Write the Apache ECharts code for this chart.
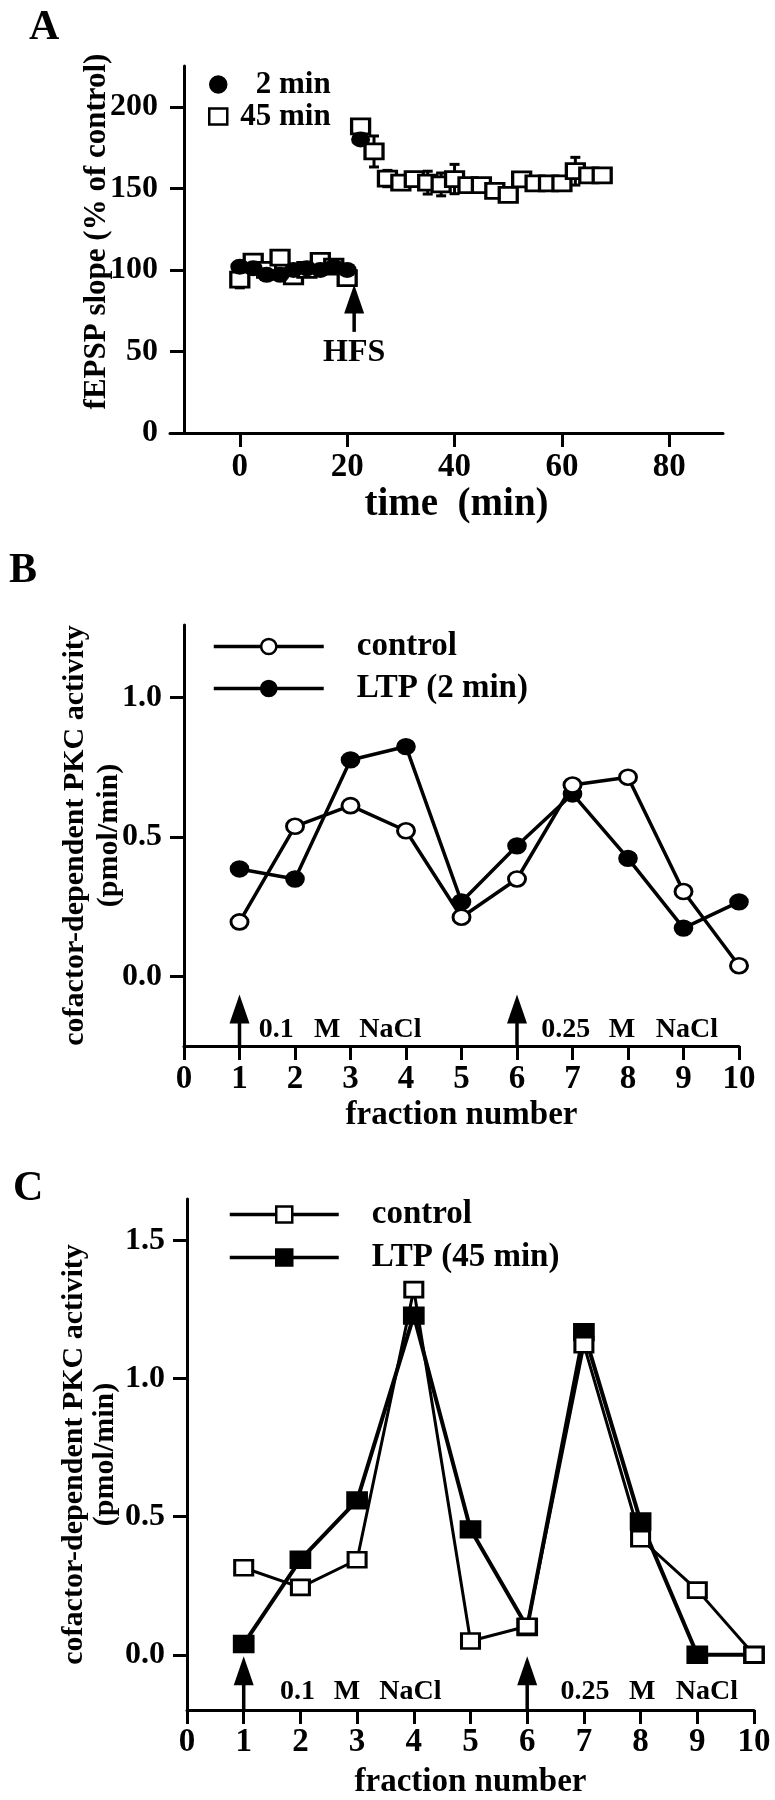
<!DOCTYPE html>
<html><head><meta charset="utf-8">
<script src="https://cdn.jsdelivr.net/npm/echarts@6/dist/echarts.min.js"></script>
<style>html,body{margin:0;padding:0;background:#fff}#c{width:775px;height:1800px}</style>
</head><body><div id="c"></div>
<script>
const FONT = '"Liberation Serif","Times New Roman",Times,serif';

// ---------- Panel A ----------
const timeA45 = [0,2.5,5,7.5,10,12.5,15,17.5,20,22.5,25,27.5,30,32.5,35,37.5,40,42.5,45,47.5,50,52.5,55,57.5,60,62.5,65,67.5];
const valA45  = [94,105,100,107.5,96,100,105.5,102,95,188,172.6,156,153.5,155.7,153.5,152.4,155.7,152,152,148.5,146,155.5,153,153,153,160.5,158,158];
const semA45  = [5,3,3,3,3,3,3,3,3,3,9.5,5,3,3,7,7,9,3,3,3,3,3,3,3,3,8.5,3,3];
const timeA2  = [0,2.5,5,7.5,10,12.5,15,17.5,20,22.5];
const valA2   = [102,101,97,97,100,101,100,102,100,180];
const ticksAx = [0,20,40,60,80];
const ticksAy = [0,50,100,150,200];
const arrowA  = [[21.3,62,91]];          // x, base, tip
const textA   = [[21.3,49]];
const labelsA = ['HFS'];

// ---------- Panel B ----------
const fractions = [1,2,3,4,5,6,7,8,9,10];
const bControl = [0.195,0.538,0.612,0.522,0.212,0.349,0.686,0.714,0.304,0.038];
const bLTP     = [0.385,0.349,0.776,0.824,0.267,0.468,0.654,0.423,0.173,0.267];
const ticksBy  = [0,0.5,1.0];
const arrowsB  = [[1,-0.25,-0.065],[6,-0.25,-0.065]];
const textPosB = [[1.66,-0.19],[2.58,-0.19],[3.72,-0.19],[6.88,-0.19],[7.89,-0.19],[9.06,-0.19]];
const labelsB  = ['0.1','M','NaCl','0.25','M','NaCl'];

// ---------- Panel C ----------
const cControl = [0.315,0.244,0.344,1.322,0.05,0.103,1.122,0.42,0.234,0.0];
const cLTP     = [0.039,0.344,0.559,1.228,0.454,0.10,1.168,0.483,0.0,0.0];
const ticksCy  = [0,0.5,1.0,1.5];
const arrowsC  = [[1,-0.2,-0.005],[6,-0.2,-0.005]];
const textPosC = [[1.95,-0.134],[2.82,-0.134],[3.94,-0.134],[7.02,-0.134],[8.03,-0.134],[9.17,-0.134]];
const labelsC  = ['0.1','M','NaCl','0.25','M','NaCl'];

const zip = (xs, ys) => xs.map((x, i) => [x, ys[i]]);

const lineAxis = {show:true, onZero:false, lineStyle:{color:'#000', width:3}};
const tick = {show:true, inside:false, length:14, lineStyle:{color:'#000', width:3}};
const lbl = (size, margin, extra) => Object.assign({color:'#000', fontFamily:FONT, fontWeight:'bold', fontSize:size, margin:margin}, extra||{});

function arrowSeries(xi, yi, data) {
  return {
    type:'custom', xAxisIndex:xi, yAxisIndex:yi, data:data, clip:false, silent:true, z:5,
    encode:{x:0, y:[1,2]},
    renderItem:function(params, api){
      const b = api.coord([api.value(0), api.value(1)]);
      const t = api.coord([api.value(0), api.value(2)]);
      const hl = 29, hw = 10;
      return {type:'group', children:[
        {type:'line', shape:{x1:b[0], y1:b[1], x2:t[0], y2:t[1]+hl-2}, style:{stroke:'#000', lineWidth:3.5}},
        {type:'polygon', shape:{points:[[t[0],t[1]],[t[0]-hw,t[1]+hl],[t[0]+hw,t[1]+hl]]}, style:{fill:'#000'}}
      ]};
    }
  };
}
function textSeries(xi, yi, data, labels, size) {
  return {
    type:'custom', xAxisIndex:xi, yAxisIndex:yi, data:data, clip:false, silent:true, z:5,
    encode:{x:0, y:1},
    renderItem:function(params, api){
      const p = api.coord([api.value(0), api.value(1)]);
      return {type:'text', x:p[0], y:p[1], style:{text:labels[params.dataIndex], fill:'#000',
        fontFamily:FONT, fontWeight:'bold', fontSize:size, align:'center', verticalAlign:'middle'}};
    }
  };
}

const errData = timeA45.map((t, i) => [t, valA45[i]-semA45[i], valA45[i]+semA45[i]]);

const titleStyle = {fontFamily:FONT, fontWeight:'bold', fontSize:42, color:'#000'};

const option = {
  animation:false,
  backgroundColor:'#fff',
  title:[
    {text:'A', left:24, top:2, textStyle:titleStyle},
    {text:'B', left:4, top:545, textStyle:titleStyle},
    {text:'C', left:8, top:1163, textStyle:titleStyle}
  ],
  legend:[
    {data:['2 min','45 min'], orient:'vertical', left:203, top:64, itemWidth:18, itemHeight:16, itemGap:1,
     selectedMode:false, formatter:function(n){return n==='2 min' ? '  2 min' : n;},
     itemStyle:{borderWidth:2.5, borderColor:'#000'},
     textStyle:{fontFamily:FONT, fontWeight:'bold', fontSize:31, lineHeight:30, color:'#000', padding:[0,0,0,8]}},
    {data:['control','LTP (2 min)'], orient:'vertical', left:207, top:625, itemWidth:110, itemHeight:19, itemGap:9,
     selectedMode:false, itemStyle:{borderWidth:2.5, borderColor:'#000'}, lineStyle:{width:3.5},
     textStyle:{fontFamily:FONT, fontWeight:'bold', fontSize:33, lineHeight:32, color:'#000', padding:[0,0,0,28]}},
    {data:['control ','LTP (45 min)'], orient:'vertical', left:223, top:1193, itemWidth:109, itemHeight:20, itemGap:10,
     selectedMode:false, itemStyle:{borderWidth:2.5, borderColor:'#000'}, lineStyle:{width:3.5},
     textStyle:{fontFamily:FONT, fontWeight:'bold', fontSize:33, lineHeight:32, color:'#000', padding:[0,0,0,28]}}
  ],
  grid:[
    {left:170, top:66, width:553, height:367, outerBoundsMode:'none', containLabel:false},
    {left:184, top:625, width:555, height:421, outerBoundsMode:'none', containLabel:false},
    {left:187, top:1199, width:567, height:511, outerBoundsMode:'none', containLabel:false}
  ],
  xAxis:[
    {gridIndex:0, type:'value', min:-13, max:90, splitLine:{show:false}, axisLine:lineAxis,
     axisTick:Object.assign({customValues:ticksAx}, tick),
     axisLabel:lbl(33, 18, {customValues:ticksAx}),
     name:'time  (min)', nameLocation:'middle', nameGap:52, nameMoveOverlap:false,
     nameTextStyle:{fontFamily:FONT, fontWeight:'bold', fontSize:39, color:'#000', padding:[0,0,0,20]}},
    {gridIndex:1, type:'value', min:0, max:10, interval:1, splitLine:{show:false}, axisLine:lineAxis,
     axisTick:tick, axisLabel:lbl(33, 17),
     name:'fraction number', nameLocation:'middle', nameGap:53, nameMoveOverlap:false,
     nameTextStyle:{fontFamily:FONT, fontWeight:'bold', fontSize:33, color:'#000'}},
    {gridIndex:2, type:'value', min:0, max:10, interval:1, splitLine:{show:false}, axisLine:lineAxis,
     axisTick:tick, axisLabel:lbl(33, 16),
     name:'fraction number', nameLocation:'middle', nameGap:56, nameMoveOverlap:false,
     nameTextStyle:{fontFamily:FONT, fontWeight:'bold', fontSize:33, color:'#000'}}
  ],
  yAxis:[
    {gridIndex:0, type:'value', min:0, max:225, offset:-14, splitLine:{show:false}, axisLine:lineAxis,
     axisTick:Object.assign({customValues:ticksAy}, tick),
     axisLabel:lbl(32, 26, {customValues:ticksAy}),
     name:'fEPSP slope (% of control)', nameLocation:'middle', nameGap:72, nameMoveOverlap:false,
     nameTextStyle:{fontFamily:FONT, fontWeight:'bold', fontSize:31, color:'#000', padding:[0,0,0,36]}},
    {gridIndex:1, type:'value', min:-0.25, max:1.26, splitLine:{show:false}, axisLine:lineAxis,
     axisTick:Object.assign({customValues:ticksBy}, tick),
     axisLabel:lbl(32, 22, {customValues:ticksBy, formatter:function(v){return v.toFixed(1);}}),
     name:'cofactor-dependent PKC activity\n(pmol/min)', nameLocation:'middle', nameGap:58, nameMoveOverlap:false,
     nameTextStyle:{fontFamily:FONT, fontWeight:'bold', fontSize:30, lineHeight:34, color:'#000'}},
    {gridIndex:2, type:'value', min:-0.2, max:1.65, splitLine:{show:false}, axisLine:lineAxis,
     axisTick:Object.assign({customValues:ticksCy}, tick),
     axisLabel:lbl(32, 22, {customValues:ticksCy, formatter:function(v){return v.toFixed(1);}}),
     name:'cofactor-dependent PKC activity\n(pmol/min)', nameLocation:'middle', nameGap:66, nameMoveOverlap:false,
     nameTextStyle:{fontFamily:FONT, fontWeight:'bold', fontSize:30, lineHeight:31, color:'#000'}}
  ],
  series:[
    // Panel A
    {type:'custom', xAxisIndex:0, yAxisIndex:0, data:errData, silent:true, encode:{x:0, y:[1,2]},
     renderItem:function(params, api){
       const x = api.value(0);
       const lo = api.coord([x, api.value(1)]), hi = api.coord([x, api.value(2)]);
       const w = 5, st = {stroke:'#000', lineWidth:3};
       return {type:'group', children:[
         {type:'line', shape:{x1:lo[0], y1:lo[1], x2:hi[0], y2:hi[1]}, style:st},
         {type:'line', shape:{x1:lo[0]-w, y1:lo[1], x2:lo[0]+w, y2:lo[1]}, style:st},
         {type:'line', shape:{x1:hi[0]-w, y1:hi[1], x2:hi[0]+w, y2:hi[1]}, style:st}
       ]};
     }},
    {name:'45 min', type:'scatter', xAxisIndex:0, yAxisIndex:0, data:zip(timeA45, valA45),
     symbol:'rect', symbolSize:[18,15], itemStyle:{color:'#fff', borderColor:'#000', borderWidth:3, opacity:1}},
    {name:'2 min', type:'scatter', xAxisIndex:0, yAxisIndex:0, data:zip(timeA2, valA2),
     symbol:'circle', symbolSize:[19,16], itemStyle:{color:'#000', borderColor:'#000', borderWidth:0, opacity:1}},
    arrowSeries(0, 0, arrowA),
    textSeries(0, 0, textA, labelsA, 32),
    // Panel B
    {name:'LTP (2 min)', type:'line', xAxisIndex:1, yAxisIndex:1, data:zip(fractions, bLTP),
     symbol:'circle', symbolSize:[17,15], lineStyle:{color:'#000', width:3.5},
     itemStyle:{color:'#000', borderColor:'#000', borderWidth:2.5}},
    {name:'control', type:'line', xAxisIndex:1, yAxisIndex:1, data:zip(fractions, bControl),
     symbol:'circle', symbolSize:[17,15], lineStyle:{color:'#000', width:3.5},
     itemStyle:{color:'#fff', borderColor:'#000', borderWidth:2.8}},
    arrowSeries(1, 1, arrowsB),
    textSeries(1, 1, textPosB, labelsB, 28),
    // Panel C
    {name:'LTP (45 min)', type:'line', xAxisIndex:2, yAxisIndex:2, data:zip(fractions, cLTP),
     symbol:'rect', symbolSize:[19,16], lineStyle:{color:'#000', width:4},
     itemStyle:{color:'#000', borderColor:'#000', borderWidth:2.5}},
    {name:'control ', type:'line', xAxisIndex:2, yAxisIndex:2, data:zip(fractions, cControl),
     symbol:'rect', symbolSize:[18,15], lineStyle:{color:'#000', width:3},
     itemStyle:{color:'#fff', borderColor:'#000', borderWidth:2.8}},
    arrowSeries(2, 2, arrowsC),
    textSeries(2, 2, textPosC, labelsC, 28)
  ]
};

const chart = echarts.init(document.getElementById('c'), null, {renderer:'canvas'});
chart.setOption(option);
</script>
</body></html>
